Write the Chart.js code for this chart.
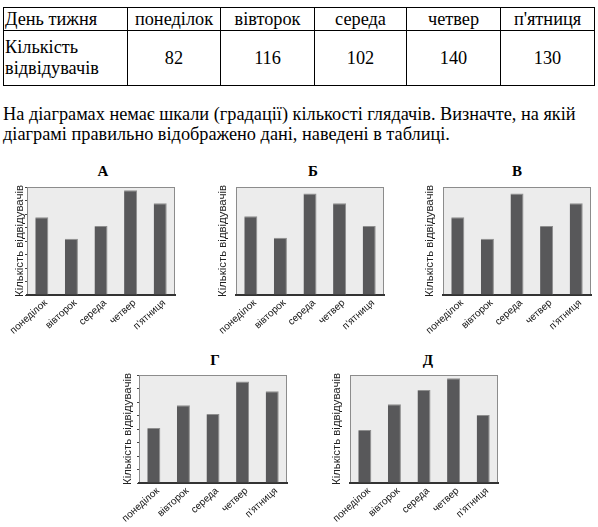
<!DOCTYPE html>
<html>
<head>
<meta charset="utf-8">
<script src="https://cdn.jsdelivr.net/npm/chart.js@4.4.1/dist/chart.umd.min.js"></script>
<style>
  body { margin: 0; width: 598px; height: 527px; position: relative; overflow: hidden; background: #fff;
         font-family: "Liberation Serif", "Times New Roman", serif; color: #000; }
  table { position: absolute; left: 3px; top: 7px; border-collapse: collapse; table-layout: fixed; font-size: 18.3px; }
  td { border: 1px solid #000; padding: 0 1px; text-align: center; line-height: 21px; }
  td.head { text-align: left; }
  p { position: absolute; left: 3px; top: 104px; margin: 0; font-size: 18.3px; line-height: 20px; white-space: nowrap; }
  .ttl { position: absolute; width: 60px; text-align: center; font-weight: bold; font-size: 15px; line-height: 18px; }
  canvas { position: absolute; }
</style>
</head>
<body>
<table id="tbl"></table>
<p>На діаграмах немає шкали (градації) кількості глядачів. Визначте, на якій<br>діаграмі правильно відображено дані, наведені в таблиці.</p>

<div class="ttl" style="left:73px;top:162px">А</div>
<div class="ttl" style="left:283px;top:162px">Б</div>
<div class="ttl" style="left:487px;top:162px">В</div>
<div class="ttl" style="left:185px;top:351px">Г</div>
<div class="ttl" style="left:398px;top:351px">Д</div>

<canvas id="chA"></canvas>
<canvas id="chB"></canvas>
<canvas id="chV"></canvas>
<canvas id="chG"></canvas>
<canvas id="chD"></canvas>

<script>
// table data
const days = ["понеділок", "вівторок", "середа", "четвер", "п'ятниця"];
const visitors = [82, 116, 102, 140, 130];

// bar heights of each diagram, in % of its (unlabelled) axis
const barsA = [72, 52, 64, 97, 85];
const barsB = [73, 53, 94, 85, 64];
const barsV = [72, 52, 94, 64, 85];
const barsG = [51, 72, 64, 94, 85];
const barsD = [49, 73, 86, 97, 63];

// table
const tbl = document.getElementById("tbl");
const colW = [124, 93, 94, 92, 94, 94];
tbl.innerHTML =
  "<colgroup>" + colW.map(w => `<col style="width:${w}px">`).join("") + "</colgroup>" +
  `<tr style="height:23px"><td class="head">День тижня</td>${days.map(d => `<td>${d}</td>`).join("")}</tr>` +
  `<tr style="height:55px"><td class="head">Кількість відвідувачів</td>${visitors.map(v => `<td>${v}</td>`).join("")}</tr>`;

const plotBg = {
  id: "plotBg",
  beforeDraw(chart) {
    const { ctx, chartArea: a } = chart;
    ctx.save();
    ctx.fillStyle = "#ececec";
    ctx.fillRect(a.left, a.top, a.right - a.left, a.bottom - a.top);
    ctx.strokeStyle = "#8c8c8c";
    ctx.lineWidth = 1;
    ctx.strokeRect(a.left + 0.5, a.top + 0.5, a.right - a.left - 1, a.bottom - a.top - 1);
    ctx.restore();
  }
};

const PAD_TOP = 12, PAD_LEFT = 12, PLOT_W = 148, PLOT_H = 108;

// s: plot area left/top, y-axis width, tick marks on/off
function panel(id, values, s) {
  const el = document.getElementById(id);
  el.width = PAD_LEFT + s.wy + PLOT_W + 2;
  el.height = PAD_TOP + PLOT_H + 40;
  el.style.left = (s.left - s.wy - PAD_LEFT) + "px";
  el.style.top = (s.top - PAD_TOP) + "px";
  new Chart(el, {
    type: "bar",
    data: {
      labels: days,
      datasets: [{
        data: values,
        backgroundColor: "#58585a",
        borderColor: "#8e8e8e",
        borderWidth: { top: 1, right: 1, left: 0, bottom: 0 },
        borderSkipped: false,
        barPercentage: 0.44,
        categoryPercentage: 1
      }]
    },
    options: {
      responsive: false,
      animation: false,
      devicePixelRatio: 1,
      layout: { padding: { top: PAD_TOP, right: 2, left: PAD_LEFT, bottom: 0 } },
      plugins: { legend: { display: false }, tooltip: { enabled: false } },
      scales: {
        x: {
          grid: { display: false, drawTicks: false },
          border: { display: true, color: "#333", width: 2 },
          ticks: {
            autoSkip: false, minRotation: 42, maxRotation: 42, padding: 2, labelOffset: 4,
            color: "#111", font: { family: "'Liberation Sans Narrow', 'Arial Narrow', 'Liberation Sans', sans-serif", size: 10 }
          },
          afterFit: sc => { sc.height = 40; sc.paddingLeft = 0; sc.paddingRight = 0; }
        },
        y: {
          min: 0, max: 100,
          grid: { drawOnChartArea: false, drawTicks: s.ticks, tickLength: 2, color: "#444" },
          border: { display: false },
          ticks: { display: false, stepSize: 12.5 },
          title: {
            display: true, text: "Кількість відвідувачів", color: "#222", padding: 0,
            font: { family: "'Liberation Sans', Arial, sans-serif", size: 11.4 }
          },
          afterFit: sc => { sc.width = s.wy; sc.paddingTop = 0; sc.paddingBottom = 0; }
        }
      }
    },
    plugins: [plotBg]
  });
}

panel("chA", barsA, { left: 27,  top: 187, wy: 14, ticks: true });
panel("chB", barsB, { left: 236, top: 187, wy: 20, ticks: false });
panel("chV", barsV, { left: 443, top: 187, wy: 20, ticks: false });
panel("chG", barsG, { left: 139, top: 375, wy: 18, ticks: true });
panel("chD", barsD, { left: 350, top: 375, wy: 20, ticks: false });
</script>
</body>
</html>
